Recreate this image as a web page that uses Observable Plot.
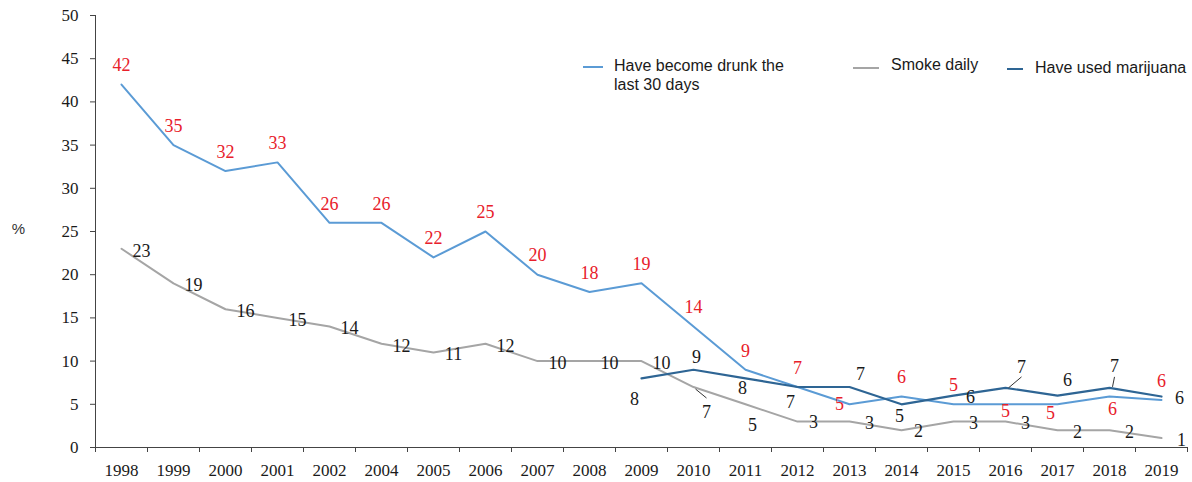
<!DOCTYPE html>
<html>
<head>
<meta charset="utf-8">
<script src="https://cdn.jsdelivr.net/npm/d3@7"></script>
<script src="https://cdn.jsdelivr.net/npm/@observablehq/plot@0.6"></script>
<style>
  html, body { margin: 0; padding: 0; background: #fff; }
  #wrap { position: relative; width: 1192px; height: 482px; }
  .leg { position: absolute; font-family: "Liberation Sans", Arial, sans-serif; font-size: 16px; line-height: 19px; color: #1a1a1a; white-space: nowrap; }
  .sw { position: absolute; height: 2px; }
</style>
</head>
<body>
<div id="wrap"></div>
<script>
// ---- data ----
const years = ["1998","1999","2000","2001","2002","2004","2005","2006","2007","2008","2009","2010","2011","2012","2013","2014","2015","2016","2017","2018","2019"];
const drunk = [42, 35, 32, 33, 26, 26, 22, 25, 20, 18, 19, 14, 9, 7, 5, 5.9, 5, 5, 5, 5.9, 5.5];
const smoke = [23, 19, 16, 15, 14, 12, 11, 12, 10, 10, 10, 7, 5, 3, 3, 2, 3, 3, 2, 2, 1.1];
const marijuana = [null, null, null, null, null, null, null, null, null, null, 8, 9, 8, 7, 7, 5, 6, 6.9, 6, 6.9, 5.9];
const yTicks = [0, 5, 10, 15, 20, 25, 30, 35, 40, 45, 50];
const seriesNames = ["Have become drunk the last 30 days", "Smoke daily", "Have used marijuana"];

// ---- styling / layout ----
const colors = {drunk: "#5b9bd5", smoke: "#a5a5a5", marijuana: "#2e6594"};
const W = 1192, H = 482, mL = 95, mR = 5, mT = 15, mB = 35;
const pxX = (W - mL - mR) / years.length;      // px per category
const pxY = (H - mT - mB) / 50;                 // px per percent

// label nudges (px) by year: [dx, dy]
const drunkNudge = {"2013": [-10, 0], "2016": [0, 7], "2017": [-7, 9], "2018": [3, 13]};
const smokeNudge = {"2010": [13, 25], "2011": [7, 21], "2012": [16, 1], "2014": [17, 1]};
const marijuanaNudge = {"2009": [-7, 21], "2010": [3, -13], "2011": [-3, 10], "2012": [-7, 15], "2013": [11, -13],
  "2014": [-2, 12], "2015": [17, 2], "2016": [16, -21], "2017": [10, -15], "2018": [5, -22], "2019": [18, 2]};

function rows(values, name, nudge, def) {
  return years.map((yr, i) => {
    const v = values[i];
    const n = nudge[yr] || def;
    return {i, year: yr, v, series: name, dx: n[0], dy: n[1]};
  }).filter(d => d.v != null);
}
const dDrunk = rows(drunk, "drunk", drunkNudge, [0, -19]);
const dSmoke = rows(smoke, "smoke", smokeNudge, [20, 2]);
const dMar = rows(marijuana, "marijuana", marijuanaNudge, [0, -15]);

// leader lines: [series values, year, start px offset, end px offset]
const leaders = [
  [smoke, "2010", [2, 2], [13, 11]],
  [marijuana, "2016", [3, 0], [16, -11]],
  [marijuana, "2018", [3, -1], [5, -11]]
].map(([vals, yr, a, b]) => {
  const i = years.indexOf(yr), v = vals[i];
  return {x1: i + a[0] / pxX, y1: v - a[1] / pxY, x2: i + b[0] / pxX, y2: v - b[1] / pxY};
});

function labelMarks(data, fill) {
  // one text mark per distinct offset so dx/dy stay constant per mark
  const groups = d3.groups(data, d => d.dx + "," + d.dy);
  return groups.map(([k, g]) => Plot.text(g, {
    x: "i", y: "v", text: d => String(Math.round(d.v)),
    dx: g[0].dx, dy: g[0].dy, fill, fontSize: 18,
    fontFamily: "Liberation Serif, Times New Roman, serif"
  }));
}

const chart = Plot.plot({
  width: W, height: H,
  marginLeft: mL, marginRight: mR, marginTop: mT, marginBottom: mB,
  style: {fontFamily: "Liberation Serif, Times New Roman, serif", fontSize: "17px", color: "#1a1a1a", background: "#fff"},
  x: {type: "linear", domain: [-0.5, years.length - 0.5]},
  y: {domain: [0, 50]},
  marks: [
    Plot.axisY({ticks: yTicks, tickSize: 5, tickPadding: 12, label: null, stroke: "#444", fontSize: 17}),
    Plot.axisX({ticks: d3.range(years.length), tickFormat: i => years[i], tickSize: 0, tickPadding: 16, label: null, fontSize: 17}),
    Plot.axisX({ticks: d3.range(years.length + 1).map(i => i - 0.5), tickFormat: () => "", tickSize: 5, label: null, stroke: "#444"}),
    Plot.ruleY([0], {stroke: "#444"}),
    Plot.ruleX([-0.5], {y1: 0, y2: 50, stroke: "#444"}),
    Plot.text(["%"], {frameAnchor: "left", dx: -77, dy: -2, textAnchor: "middle", text: d => d, fontSize: 15,
      fontFamily: "Liberation Sans, Arial, sans-serif", fill: "#333"}),
    Plot.line(dDrunk, {x: "i", y: "v", stroke: colors.drunk, strokeWidth: 2}),
    Plot.line(dSmoke, {x: "i", y: "v", stroke: colors.smoke, strokeWidth: 2}),
    Plot.line(dMar, {x: "i", y: "v", stroke: colors.marijuana, strokeWidth: 2.2}),
    Plot.link(leaders, {x1: "x1", y1: "y1", x2: "x2", y2: "y2", stroke: "#333", strokeWidth: 1}),
    ...labelMarks(dDrunk, "#e8202a"),
    ...labelMarks(dSmoke, "#1a1a1a"),
    ...labelMarks(dMar, "#1a1a1a")
  ]
});

const wrap = document.getElementById("wrap");
wrap.appendChild(chart);

// legend overlay
const legend = [
  {sw: [583, 66, 20], color: colors.drunk, text: "Have become drunk the<br>last 30 days", pos: [614, 56]},
  {sw: [853, 67, 26], color: colors.smoke, text: seriesNames[1], pos: [891, 55]},
  {sw: [1007, 68, 16], color: colors.marijuana, text: seriesNames[2], pos: [1035, 58]}
];
for (const l of legend) {
  const s = document.createElement("div");
  s.className = "sw";
  s.style.left = l.sw[0] + "px"; s.style.top = l.sw[1] + "px"; s.style.width = l.sw[2] + "px";
  s.style.background = l.color;
  wrap.appendChild(s);
  const t = document.createElement("div");
  t.className = "leg";
  t.style.left = l.pos[0] + "px"; t.style.top = l.pos[1] + "px";
  t.innerHTML = l.text;
  wrap.appendChild(t);
}
</script>
</body>
</html>
